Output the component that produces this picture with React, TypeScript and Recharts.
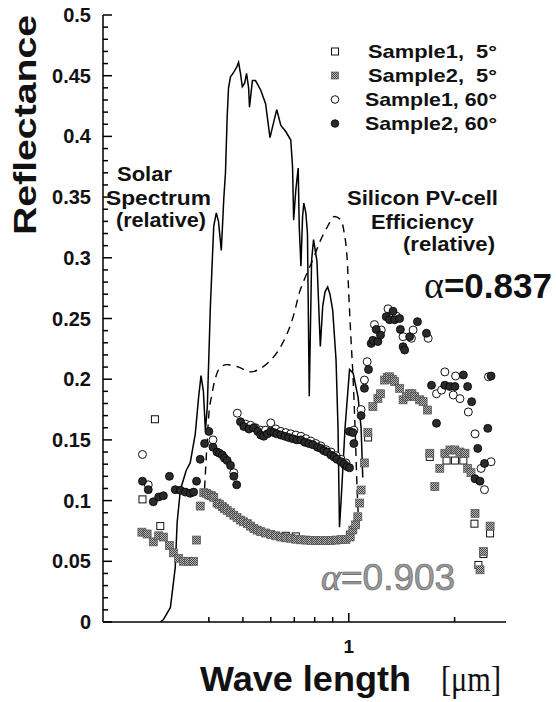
import React from "react";
import { ComposedChart, Line, Scatter, XAxis, YAxis } from "recharts";

// every pair is [wavelength in µm, reflectance]
const solarSpectrum: [number, number][] = [
  [0.291, 0], [0.297, 0.002], [0.311, 0.012], [0.321, 0.045], [0.325, 0.082], [0.332, 0.109],
  [0.345, 0.125], [0.354, 0.131], [0.366, 0.155], [0.374, 0.185], [0.38, 0.203], [0.386, 0.19],
  [0.391, 0.158], [0.396, 0.177], [0.404, 0.26], [0.413, 0.326], [0.42, 0.337], [0.426, 0.33],
  [0.434, 0.306], [0.441, 0.348], [0.446, 0.37], [0.451, 0.416], [0.455, 0.44], [0.461, 0.449],
  [0.471, 0.453], [0.48, 0.457], [0.486, 0.461], [0.492, 0.452], [0.498, 0.441], [0.506, 0.444],
  [0.512, 0.452], [0.519, 0.44], [0.522, 0.424], [0.532, 0.446], [0.543, 0.446], [0.562, 0.438],
  [0.58, 0.427], [0.597, 0.399], [0.613, 0.413], [0.624, 0.422], [0.641, 0.409], [0.662, 0.404],
  [0.684, 0.397], [0.692, 0.375], [0.697, 0.331], [0.707, 0.356], [0.718, 0.374], [0.723, 0.326],
  [0.731, 0.293], [0.739, 0.334], [0.745, 0.345], [0.755, 0.337], [0.763, 0.32], [0.772, 0.186],
  [0.784, 0.298], [0.794, 0.315], [0.812, 0.297], [0.83, 0.227], [0.843, 0.26], [0.856, 0.272],
  [0.871, 0.276], [0.884, 0.27], [0.9, 0.257], [0.92, 0.216], [0.932, 0.16], [0.941, 0.078],
  [0.951, 0.1], [0.976, 0.16], [1.005, 0.208], [1.029, 0.205], [1.063, 0.185], [1.084, 0.16],
  [1.096, 0.119],
];

const pvEfficiency: [number, number][] = [
  [0.389, 0.11], [0.394, 0.14], [0.399, 0.167], [0.409, 0.189], [0.422, 0.205], [0.437, 0.211],
  [0.451, 0.212], [0.486, 0.21], [0.526, 0.206], [0.562, 0.209], [0.592, 0.214], [0.641, 0.227],
  [0.669, 0.238], [0.699, 0.254], [0.723, 0.271], [0.747, 0.282], [0.789, 0.298], [0.833, 0.315],
  [0.871, 0.326], [0.91, 0.334], [0.951, 0.331], [0.971, 0.32], [0.989, 0.3], [1.002, 0.265],
  [1.015, 0.232], [1.029, 0.2], [1.042, 0.16], [1.056, 0.11], [1.07, 0.075],
];

const sample1At5: [number, number][] = [
  [0.259, 0.101], [0.281, 0.167], [0.291, 0.079], [0.662, 0.071], [0.707, 0.0705], [1.009, 0.072],
  [1.135, 0.152], [1.7, 0.136], [1.897, 0.133], [2.004, 0.133], [2.118, 0.133], [2.277, 0.081],
  [2.337, 0.047], [2.415, 0.056], [2.523, 0.073],
];

const sample2At5: [number, number][] = [
  [0.258, 0.074], [0.267, 0.0725], [0.278, 0.066], [0.288, 0.071], [0.297, 0.07], [0.309, 0.063],
  [0.317, 0.057], [0.328, 0.0525], [0.339, 0.05], [0.35, 0.05], [0.362, 0.05], [0.369, 0.0675],
  [0.378, 0.0955], [0.387, 0.1065], [0.394, 0.106], [0.4, 0.1046], [0.407, 0.104], [0.413, 0.1027],
  [0.422, 0.098], [0.429, 0.097], [0.437, 0.095], [0.443, 0.0935], [0.451, 0.092], [0.461, 0.09],
  [0.471, 0.088], [0.481, 0.086], [0.492, 0.084], [0.502, 0.0825], [0.515, 0.081], [0.526, 0.079],
  [0.537, 0.077], [0.549, 0.0757], [0.562, 0.0744], [0.58, 0.0733], [0.6, 0.0722], [0.62, 0.071],
  [0.641, 0.07], [0.662, 0.0693], [0.684, 0.069], [0.707, 0.0682], [0.731, 0.0677], [0.755, 0.0675],
  [0.78, 0.0672], [0.806, 0.067], [0.833, 0.067], [0.861, 0.067], [0.89, 0.0672], [0.92, 0.0675],
  [0.951, 0.0678], [0.982, 0.068], [1.009, 0.07], [1.027, 0.0758], [1.046, 0.08], [1.061, 0.0867],
  [1.074, 0.098], [1.084, 0.1087], [1.108, 0.131], [1.133, 0.156], [1.171, 0.1774], [1.21, 0.184],
  [1.231, 0.188], [1.264, 0.1993], [1.287, 0.2015], [1.306, 0.202], [1.33, 0.2], [1.35, 0.198],
  [1.395, 0.1925], [1.427, 0.183], [1.458, 0.1856], [1.487, 0.188], [1.512, 0.188], [1.54, 0.1856],
  [1.591, 0.183], [1.627, 0.1815], [1.674, 0.1746], [1.7, 0.139], [1.757, 0.1115], [1.815, 0.1266],
  [1.876, 0.139], [1.939, 0.1417], [2.004, 0.1417], [2.071, 0.14], [2.14, 0.139], [2.178, 0.1266],
  [2.226, 0.123], [2.286, 0.0895], [2.415, 0.058], [2.362, 0.043], [2.523, 0.079],
];

const sample1At60: [number, number][] = [
  [0.259, 0.138], [0.269, 0.113], [0.411, 0.15], [0.471, 0.123], [0.482, 0.172], [0.509, 0.163],
  [0.526, 0.162], [0.543, 0.16], [0.562, 0.158], [0.58, 0.158], [0.6, 0.164], [0.62, 0.159],
  [0.641, 0.157], [0.662, 0.156], [0.684, 0.155], [0.707, 0.154], [0.731, 0.153], [0.755, 0.151],
  [0.78, 0.149], [0.806, 0.147], [0.833, 0.145], [0.861, 0.142], [0.89, 0.14], [0.92, 0.137],
  [0.951, 0.134], [0.982, 0.131], [1.034, 0.158], [1.084, 0.175], [1.108, 0.1993], [1.128, 0.2144],
  [1.183, 0.245], [1.237, 0.2405], [1.293, 0.258], [1.365, 0.252], [1.427, 0.235], [1.507, 0.2337],
  [1.524, 0.2405], [1.682, 0.2337], [1.776, 0.188], [1.836, 0.191], [1.876, 0.206], [1.983, 0.187],
  [2.013, 0.2026], [2.071, 0.184], [2.188, 0.173], [2.286, 0.155], [2.378, 0.1265], [2.432, 0.109],
  [2.496, 0.202], [2.539, 0.132],
];

const sample2At60: [number, number][] = [
  [0.259, 0.116], [0.269, 0.109], [0.278, 0.099], [0.288, 0.103], [0.297, 0.104], [0.309, 0.12],
  [0.321, 0.109], [0.332, 0.1085], [0.343, 0.107], [0.354, 0.106], [0.362, 0.107], [0.369, 0.116],
  [0.378, 0.134], [0.389, 0.147], [0.4, 0.157], [0.411, 0.144], [0.422, 0.14], [0.429, 0.139],
  [0.437, 0.1375], [0.443, 0.135], [0.451, 0.133], [0.461, 0.129], [0.471, 0.12], [0.48, 0.113],
  [0.492, 0.165], [0.503, 0.161], [0.52, 0.159], [0.537, 0.16], [0.551, 0.157], [0.562, 0.154],
  [0.573, 0.153], [0.587, 0.155], [0.6, 0.157], [0.612, 0.156], [0.624, 0.155], [0.641, 0.154],
  [0.658, 0.153], [0.675, 0.152], [0.693, 0.151], [0.712, 0.15], [0.731, 0.15], [0.75, 0.148],
  [0.77, 0.147], [0.791, 0.146], [0.815, 0.144], [0.833, 0.143], [0.85, 0.141], [0.867, 0.14],
  [0.89, 0.1375], [0.908, 0.136], [0.926, 0.134], [0.951, 0.132], [0.97, 0.13], [0.989, 0.128],
  [1.005, 0.127], [1.004, 0.157], [1.027, 0.156], [1.034, 0.147], [1.084, 0.17], [1.108, 0.1925],
  [1.138, 0.208], [1.158, 0.2295], [1.171, 0.232], [1.197, 0.241], [1.21, 0.231], [1.231, 0.2364],
  [1.278, 0.2515], [1.306, 0.249], [1.336, 0.256], [1.35, 0.249], [1.395, 0.25], [1.402, 0.241],
  [1.427, 0.2268], [1.442, 0.224], [1.49, 0.235], [1.568, 0.2474], [1.663, 0.2378], [1.719, 0.195],
  [1.776, 0.1637], [1.876, 0.195], [1.939, 0.194], [2.004, 0.194], [2.118, 0.2035], [2.178, 0.194],
  [2.236, 0.1815], [2.286, 0.118], [2.327, 0.143], [2.362, 0.116], [2.432, 0.1306], [2.485, 0.1595],
  [2.539, 0.2026],
];

const Y_MAJOR = [0, 0.05, 0.1, 0.15, 0.2, 0.25, 0.3, 0.35, 0.4, 0.45, 0.5];
const Y_LABELS = ["0", "0.05", "0.1", "0.15", "0.2", "0.25", "0.3", "0.35", "0.4", "0.45", "0.5"];
const Y_TICKS = Array.from({ length: 51 }, (_, i) => i / 100);
const X_TICKS = [0.4, 0.5, 0.6, 0.7, 0.8, 0.9, 1, 2];
const X_LABELS: Record<string, string> = { "1": "1" };
const LEGEND = ["Sample1,  5\u00b0", "Sample2,  5\u00b0", "Sample1, 60\u00b0", "Sample2, 60\u00b0"];

const SANS = "'Liberation Sans', Arial, Helvetica, sans-serif";
const SERIF = "'Liberation Serif', 'Times New Roman', serif";

const pts = (arr: [number, number][]) => arr.map(([x, y]) => ({ x, y }));

const openSquare = (p: any) => (
  <rect x={p.cx - 3.5} y={p.cy - 3.5} width={7} height={7} fill="#fff" stroke="#111" strokeWidth={1} />
);
const hatchSquare = (p: any) => (
  <rect x={p.cx - 4} y={p.cy - 4} width={8} height={8} fill="url(#hatch)" stroke="#555" strokeWidth={0.7} />
);
const openCircle = (p: any) => (
  <circle cx={p.cx} cy={p.cy} r={4} fill="#fff" stroke="#111" strokeWidth={1} />
);
const filledCircle = (p: any) => (
  <circle cx={p.cx} cy={p.cy} r={4} fill="#2a2a2a" stroke="#000" strokeWidth={0.8} />
);

function YTick(props: any) {
  const { x, y, payload } = props;
  const idx = Y_MAJOR.findIndex((m) => Math.abs(m - payload.value) < 1e-6);
  const major = idx >= 0;
  return (
    <g>
      <line x1={x} x2={x + (major ? 9 : 5)} y1={y} y2={y} stroke="#000" strokeWidth={1.5} />
      {major && (
        <text x={x - 12} y={y + 7} textAnchor="end" fontSize={20} fontWeight="bold" fontFamily={SANS} fill="#111">
          {Y_LABELS[idx]}
        </text>
      )}
    </g>
  );
}

function XTick(props: any) {
  const { x, y, payload } = props;
  const label = X_LABELS[String(payload.value)];
  return (
    <g>
      <line x1={x} x2={x} y1={y} y2={y - (label ? 9 : 5)} stroke="#000" strokeWidth={1.5} />
      {label && (
        <text x={x} y={y + 31} textAnchor="middle" fontSize={19} fontWeight="bold" fontFamily={SANS} fill="#111">
          {label}
        </text>
      )}
    </g>
  );
}

const legendMarkers = [
  (y: number) => <rect x={331.5} y={y - 3.5} width={7} height={7} fill="#fff" stroke="#111" strokeWidth={1} />,
  (y: number) => <rect x={331.5} y={y - 3.5} width={7} height={7} fill="url(#hatch)" stroke="#555" strokeWidth={0.7} />,
  (y: number) => <circle cx={335} cy={y} r={3.8} fill="#fff" stroke="#111" strokeWidth={1} />,
  (y: number) => <circle cx={335} cy={y} r={3.8} fill="#2a2a2a" stroke="#000" strokeWidth={0.8} />,
];

export default function App() {
  return (
    <div style={{ position: "absolute", left: 0, top: 0, width: 556, height: 702, background: "#fff" }}>
      <svg width={0} height={0} style={{ position: "absolute" }}>
        <defs>
          <pattern id="hatch" width={2} height={2} patternUnits="userSpaceOnUse">
            <rect width={2} height={2} fill="#b8b8b8" />
            <rect width={1} height={1} fill="#444" />
            <rect x={1} y={1} width={1} height={1} fill="#444" />
          </pattern>
        </defs>
      </svg>
      <ComposedChart width={556} height={702} margin={{ top: 15, right: 50, bottom: 0, left: 0 }}>
        <XAxis
          dataKey="x"
          type="number"
          scale="log"
          domain={[0.2, 2.8]}
          allowDataOverflow
          ticks={X_TICKS}
          interval={0}
          tick={<XTick />}
          tickLine={false}
          tickSize={0}
          tickMargin={0}
          height={80}
          axisLine={{ stroke: "#000", strokeWidth: 1.5 }}
        />
        <XAxis
          xAxisId="top"
          orientation="top"
          dataKey="x"
          type="number"
          scale="log"
          domain={[0.2, 2.8]}
          allowDataOverflow
          height={0}
          tick={false}
          tickLine={false}
          axisLine={{ stroke: "#000", strokeWidth: 1.2 }}
        />
        <YAxis
          dataKey="y"
          type="number"
          domain={[0, 0.5]}
          allowDataOverflow
          ticks={Y_TICKS}
          interval={0}
          tick={<YTick />}
          tickLine={false}
          tickSize={0}
          tickMargin={0}
          width={103}
          axisLine={{ stroke: "#000", strokeWidth: 1.5 }}
        />
        <YAxis
          yAxisId="right"
          orientation="right"
          dataKey="y"
          type="number"
          domain={[0, 0.5]}
          width={0}
          tick={false}
          tickLine={false}
          axisLine={{ stroke: "#000", strokeWidth: 1.5 }}
        />
        <Line data={pts(solarSpectrum)} dataKey="y" type="linear" stroke="#000" strokeWidth={1.5} dot={false} activeDot={false} isAnimationActive={false} />
        <Line data={pts(pvEfficiency)} dataKey="y" type="monotone" stroke="#000" strokeWidth={1.4} strokeDasharray="8 6" dot={false} activeDot={false} isAnimationActive={false} />
        <Scatter data={pts(sample1At5)} shape={openSquare} isAnimationActive={false} />
        <Scatter data={pts(sample2At5)} shape={hatchSquare} isAnimationActive={false} />
        <Scatter data={pts(sample1At60)} shape={openCircle} isAnimationActive={false} />
        <Scatter data={pts(sample2At60)} shape={filledCircle} isAnimationActive={false} />
      </ComposedChart>

      <svg width={556} height={702} style={{ position: "absolute", left: 0, top: 0, pointerEvents: "none" }}>
        <text transform="translate(36,125) rotate(-90)" textAnchor="middle" fontSize={31} fontWeight="bold" fontFamily={SANS} textLength={220} lengthAdjust="spacingAndGlyphs" fill="#111">
          Reflectance
        </text>
        <text x={200} y={691} fontSize={35} fontWeight="bold" fontFamily={SANS} textLength={211} lengthAdjust="spacingAndGlyphs" fill="#111">
          Wave length
        </text>
        <text x={441} y={691} fontSize={35} fontFamily={SERIF} textLength={60} lengthAdjust="spacingAndGlyphs" fill="#111">
          [μm]
        </text>

        <g fontFamily={SANS} fontWeight="bold" fontSize={21} fill="#111">
          <text x={117} y={181} textLength={55} lengthAdjust="spacingAndGlyphs">Solar</text>
          <text x={106} y={205} textLength={105} lengthAdjust="spacingAndGlyphs">Spectrum</text>
          <text x={116} y={227} textLength={90} lengthAdjust="spacingAndGlyphs">(relative)</text>
          <text x={347} y={205} textLength={151} lengthAdjust="spacingAndGlyphs">Silicon PV-cell</text>
          <text x={371} y={229} textLength={103} lengthAdjust="spacingAndGlyphs">Efficiency</text>
          <text x={403} y={251} textLength={92} lengthAdjust="spacingAndGlyphs">(relative)</text>
        </g>

        <text x={424} y={298} fill="#111">
          <tspan fontFamily={SERIF} fontSize={38}>α</tspan>
          <tspan fontFamily={SANS} fontSize={35} fontWeight="bold">=0.837</tspan>
        </text>
        <text x={321} y={590} fill="#9a9a9a" stroke="#666" strokeWidth={0.7}>
          <tspan fontFamily={SERIF} fontSize={38} fontStyle="italic">α</tspan>
          <tspan fontFamily={SANS} fontSize={37}>=0.903</tspan>
        </text>

        {LEGEND.map((label, i) => {
          const cy = 51.5 + i * 24;
          return (
            <g key={label}>
              {legendMarkers[i](cy)}
              <text
                x={497}
                y={cy + 6.5}
                textAnchor="end"
                fontSize={19}
                fontWeight="bold"
                fontFamily={SANS}
                fill="#111"
                style={{ whiteSpace: "pre" }}
                textLength={i < 2 ? 129 : 132}
                lengthAdjust="spacingAndGlyphs"
              >
                {label}
              </text>
            </g>
          );
        })}
      </svg>
    </div>
  );
}
